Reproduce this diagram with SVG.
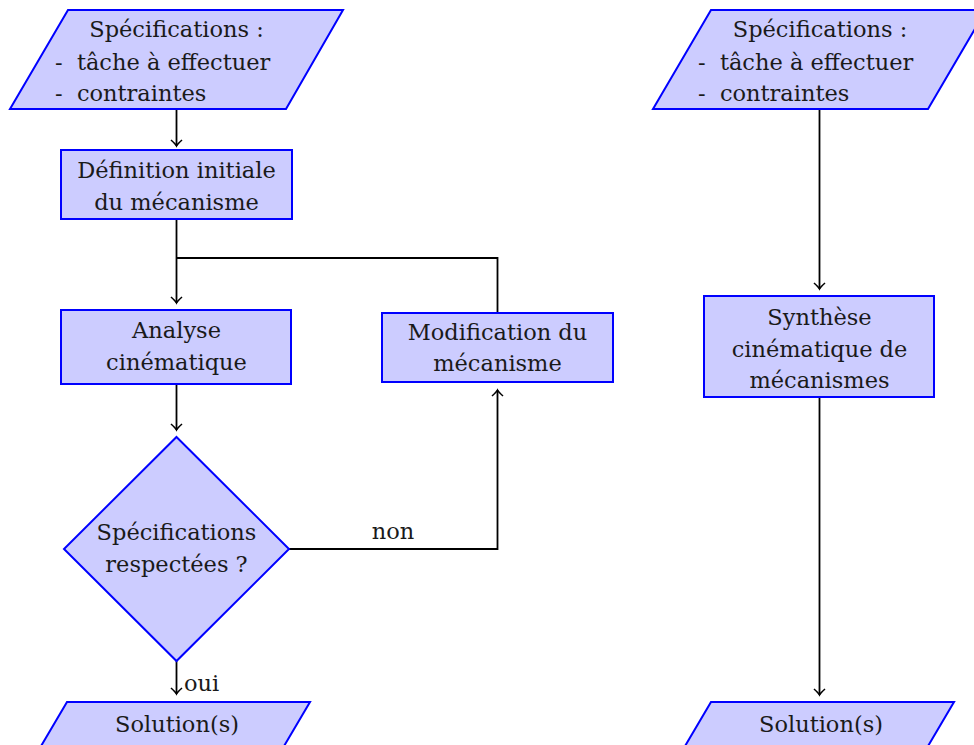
<svg xmlns="http://www.w3.org/2000/svg" width="974" height="745" viewBox="0 0 974 745">
<style>
.n{fill:#ccccff;stroke:#0000ff;stroke-width:2}
text{font-family:'DejaVu Serif','Liberation Serif',serif;font-size:22.5px;fill:#1a1a1a}
.c{text-anchor:middle}
.e{fill:none;stroke:#000;stroke-width:1.8}
</style>
<defs>
<marker id="ar" markerUnits="userSpaceOnUse" markerWidth="14" markerHeight="14" viewBox="-8 -7 10 14" refX="0" refY="0" orient="auto">
<path d="M-6,-5.5 Q-2,-1 0,0 Q-2,1 -6,5.5" fill="none" stroke="#000" stroke-width="1.6"/>
</marker>
</defs>
<rect width="974" height="745" fill="#fff"/>
<g id="connectors">
<path class="e" d="M176.5 109 V146" marker-end="url(#ar)"/>
<path class="e" d="M176.5 219 V303" marker-end="url(#ar)"/>
<path class="e" d="M176.5 258 H497.5 V313"/>
<path class="e" d="M176.5 384 V430" marker-end="url(#ar)"/>
<path class="e" d="M289 549 H497.5 V390" marker-end="url(#ar)"/>
<text class="c" x="393" y="539">non</text>
<path class="e" d="M176.5 661 V694" marker-end="url(#ar)"/>
<text x="184" y="691">oui</text>
<path class="e" d="M819.5 109 V289" marker-end="url(#ar)"/>
<path class="e" d="M819.5 397 V695" marker-end="url(#ar)"/>
</g>
<g id="spec1">
<polygon class="n" points="68,10 343,10 286,109 10,109"/>
<text class="c" x="176.5" y="37">Spécifications :</text>
<text x="55" y="70" xml:space="preserve">-  tâche à effectuer</text>
<text x="55" y="101" xml:space="preserve">-  contraintes</text>
</g>
<g id="definition">
<rect class="n" x="61" y="150" width="231" height="69"/>
<text class="c" x="176.5" y="178">Définition initiale</text>
<text class="c" x="176.5" y="210">du mécanisme</text>
</g>
<g id="analyse">
<rect class="n" x="61" y="310" width="230" height="74"/>
<text class="c" x="176.5" y="338">Analyse</text>
<text class="c" x="176.5" y="370">cinématique</text>
</g>
<g id="modification">
<rect class="n" x="382" y="313" width="231" height="69"/>
<text class="c" x="497.5" y="340">Modification du</text>
<text class="c" x="497.5" y="371">mécanisme</text>
</g>
<g id="decision">
<polygon class="n" points="176.5,437 289,549 176.5,661 64,549"/>
<text class="c" x="176.5" y="540">Spécifications</text>
<text class="c" x="176.5" y="572">respectées ?</text>
</g>
<g id="solution1">
<polygon class="n" points="67,702 310,702 277,758 34,758"/>
<text class="c" x="177" y="732">Solution(s)</text>
</g>
<g id="spec2">
<polygon class="n" points="711,10 986,10 928,109 653,109"/>
<text class="c" x="820" y="37">Spécifications :</text>
<text x="698" y="70" xml:space="preserve">-  tâche à effectuer</text>
<text x="698" y="101" xml:space="preserve">-  contraintes</text>
</g>
<g id="synthese">
<rect class="n" x="704" y="296" width="230" height="101"/>
<text class="c" x="819.5" y="325">Synthèse</text>
<text class="c" x="819.5" y="357">cinématique de</text>
<text class="c" x="819.5" y="388">mécanismes</text>
</g>
<g id="solution2">
<polygon class="n" points="711,702 954,702 921,758 678,758"/>
<text class="c" x="821" y="732">Solution(s)</text>
</g>
</svg>
